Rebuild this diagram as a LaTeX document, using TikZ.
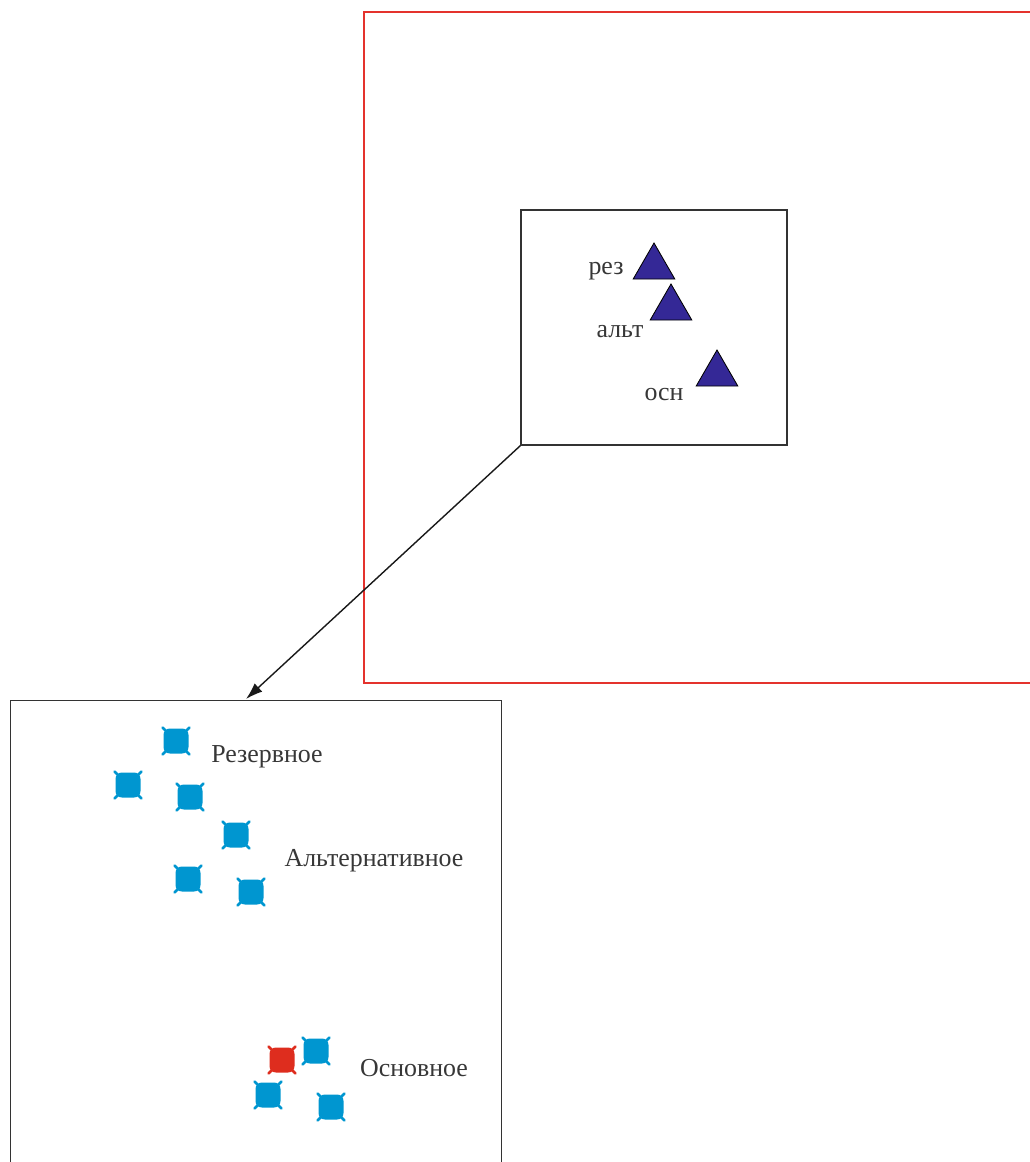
\documentclass[tikz,border=0pt]{standalone}
\usepackage{fontspec}
\setmainfont{Liberation Serif}
\usetikzlibrary{arrows.meta,shapes.geometric}

\definecolor{frame}{RGB}{228,50,45}
\definecolor{stablue}{RGB}{0,150,208}
\definecolor{stared}{RGB}{222,45,30}
\definecolor{tri}{RGB}{52,40,150}
\definecolor{txt}{RGB}{55,55,55}

\tikzset{
  box/.style={draw=black!80,line width=1pt},
  sta/.style={rectangle,rounded corners=4.5pt,minimum size=25*0.025cm,inner sep=0pt,fill=#1},
  tick/.style={draw=#1,line width=1.8pt,line cap=round},
  ant/.style={regular polygon,regular polygon sides=3,minimum size=48*0.025cm,inner sep=0pt,fill=tri,draw=black,line width=0.6pt},
  lbl/.style={text=txt,font=\fontsize{18.4}{21}\selectfont,inner sep=0pt}
}

\begin{document}
\begin{tikzpicture}[x=0.025cm,y=-0.025cm]
    \useasboundingbox (0,0) rectangle (1030,1162);

    % outer area and the zoomed cell
    \draw[frame,line width=1.6pt] (364,12) rectangle (1040,683);
    \node[box,minimum width=266*0.025cm,minimum height=235*0.025cm,inner sep=0pt] (cell) at (654,327.5) {};
    \node[box,anchor=north west,minimum width=491*0.025cm,minimum height=480*0.025cm,inner sep=0pt] (zoom) at (10,700) {};

    % antennas in the cell
    \node[ant] (trez) at (654,267) {};
    \node[ant] (talt) at (671,308) {};
    \node[ant] (tosn) at (717,374) {};
    \node[lbl] (lrez) at (606,271) {рез};
    \node[lbl] (lalt) at (620,332) {альт};
    \node[lbl] (losn) at (664,395) {осн};

    % link to the enlarged view
    \coordinate (ztop) at (246,699);
    \draw[-{Latex[length=12pt,width=8pt]},line width=1pt,black!90] (cell.south west) -- (ztop);

    % stations
    \foreach \n/\x/\y/\c in {s1/176/741/stablue, s2/128/785/stablue, s3/190/797/stablue,
        s4/236/835/stablue, s5/188/879/stablue, s6/251/892/stablue,
        s7/316/1051/stablue, s8/268/1095/stablue, s9/331/1107/stablue, s0/282/1060/stared} {
      \draw[tick=\c] (\x,\y) ++(-13.5,-13.5) -- ++(27,27) ++(0,-27) -- ++(-27,27);
      \node[sta=\c] (\n) at (\x,\y) {};
    }

    \node[lbl] (nrez) at (267,757) {Резервное};
    \node[lbl] (nalt) at (374,861) {Альтернативное};
    \node[lbl] (nosn) at (414,1068) {Основное};
\end{tikzpicture}
\end{document}
